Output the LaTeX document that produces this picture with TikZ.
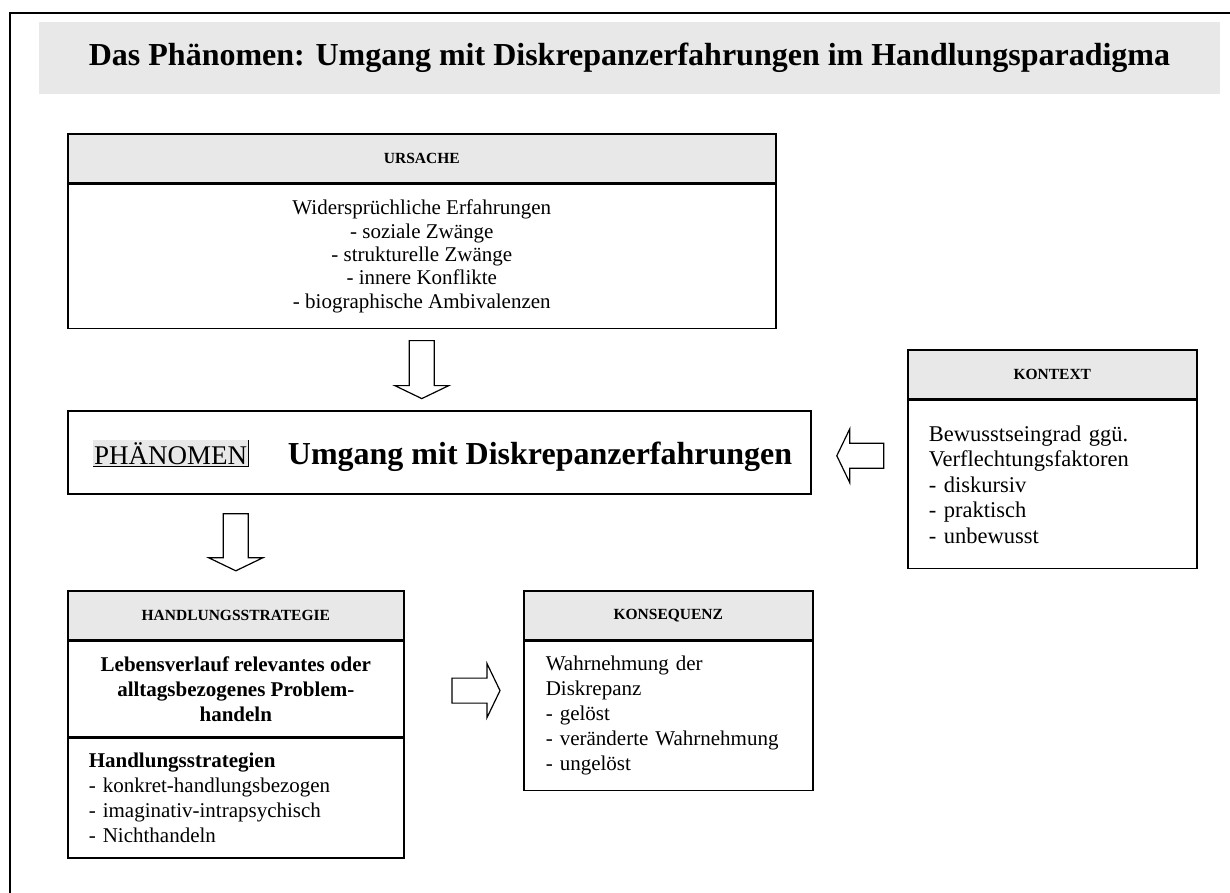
\documentclass[tikz,border=0pt]{standalone}
\usepackage{fontspec}
\setmainfont{Liberation Serif}
\usetikzlibrary{positioning,calc}

\definecolor{bandgrey}{RGB}{232,232,232}

\begin{document}
\begin{tikzpicture}[x=1pt,y=-1pt,
  box/.style={draw,line width=1.6pt,inner sep=0pt},
  head box/.style={box,fill=bandgrey,minimum height=49pt,font=\bfseries\fontsize{15.5}{18}\selectfont},
  body box/.style={box,font=\fontsize{21}{25}\selectfont},
  arrow line/.style={draw,line width=1.2pt,fill=white,line join=miter},
  pics/fat arrow/.style={code={
    \path[arrow line] (-#1/2,-12.5) -- (#1/2-13,-12.5) -- (#1/2-13,-27) -- (#1/2,0)
      -- (#1/2-13,27) -- (#1/2-13,12.5) -- (-#1/2,12.5) -- cycle;}}]

 \useasboundingbox (0,0) rectangle (1230,893);
 \draw[line width=2pt] (1230,13) -- (10,13) -- (10,893);

 \node[fill=bandgrey,minimum width=1181pt,minimum height=72pt,inner sep=0pt,
   font=\bfseries\fontsize{32}{38}\selectfont] (titel) at (629.5,58)
   {Das Phänomen: Umgang mit Diskrepanzerfahrungen im Handlungsparadigma};

 % Ursache
 \node[head box,minimum width=708pt,anchor=north west] (ursachekopf) at (67,133) {URSACHE};
 \node[body box,minimum width=708pt,minimum height=144pt,below=0pt of ursachekopf,
   align=center,font=\fontsize{21}{23.3}\selectfont] (ursache)
   {Widersprüchliche Erfahrungen\\- soziale Zwänge\\- strukturelle Zwänge\\- innere Konflikte\\- biographische Ambivalenzen};

 % Phaenomen
 \node[box,minimum width=743pt,minimum height=83pt,anchor=north west] (phaenomen) at (67,410) {};
 \node[fill=bandgrey,inner xsep=1pt,inner ysep=2pt,font=\fontsize{27}{30}\selectfont,
   anchor=base west] (phaenlabel) at ($(phaenomen.west)+(26,12)$) {PHÄNOMEN};
 \draw[line width=1pt] (phaenlabel.north east) -- (phaenlabel.south east) -- (phaenlabel.south west);
 \node[font=\bfseries\fontsize{32}{38}\selectfont,base right=36pt of phaenlabel] (umgang)
   {Umgang mit Diskrepanzerfahrungen};

 % Kontext
 \node[head box,minimum width=289pt,anchor=north west] (kontextkopf) at (907,349) {KONTEXT};
 \node[body box,minimum width=289pt,minimum height=168pt,below=0pt of kontextkopf,
   text width=247pt,align=left,font=\fontsize{22.5}{25.5}\selectfont] (kontext)
   {Bewusstseingrad ggü.\\Verflechtungsfaktoren\\- diskursiv\\- praktisch\\- unbewusst};

 % Handlungsstrategie
 \node[head box,minimum width=336pt,anchor=north west] (handlungkopf) at (67,590) {HANDLUNGSSTRATEGIE};
 \node[body box,minimum width=336pt,minimum height=95pt,below=0pt of handlungkopf,
   align=center,font=\bfseries\fontsize{21}{25}\selectfont] (problem)
   {Lebensverlauf relevantes oder\\alltagsbezogenes Problem-\\handeln};
 \node[body box,minimum width=336pt,minimum height=120pt,below=0pt of problem,
   text width=294pt,align=left] (strategien)
   {\textbf{Handlungsstrategien}\\- konkret-handlungsbezogen\\- imaginativ-intrapsychisch\\- Nichthandeln};

 % Konsequenz
 \node[head box,minimum width=289pt,anchor=north west] (konsequenzkopf) at (523,590) {KONSEQUENZ};
 \node[body box,minimum width=289pt,minimum height=149pt,below=0pt of konsequenzkopf,
   text width=245pt,align=left] (konsequenz)
   {Wahrnehmung der\\Diskrepanz\\- gelöst\\- veränderte Wahrnehmung\\- ungelöst};

 % Pfeile
 \pic[rotate=-90] at ($(ursache.south)!0.5!(ursache.south |- phaenomen.north)$) {fat arrow=58};
 \pic[rotate=-90] at ($(handlungkopf.north)!0.5!(handlungkopf.north |- phaenomen.south)$) {fat arrow=57};
 \pic[rotate=180] at ($(phaenomen.east)!0.5!(phaenomen.east -| kontextkopf.west)+(1,3.5)$) {fat arrow=47};
 \pic at ($(konsequenzkopf.north west)!0.5!(konsequenz.south west)+(-47,0)$) {fat arrow=48};

\end{tikzpicture}
\end{document}
